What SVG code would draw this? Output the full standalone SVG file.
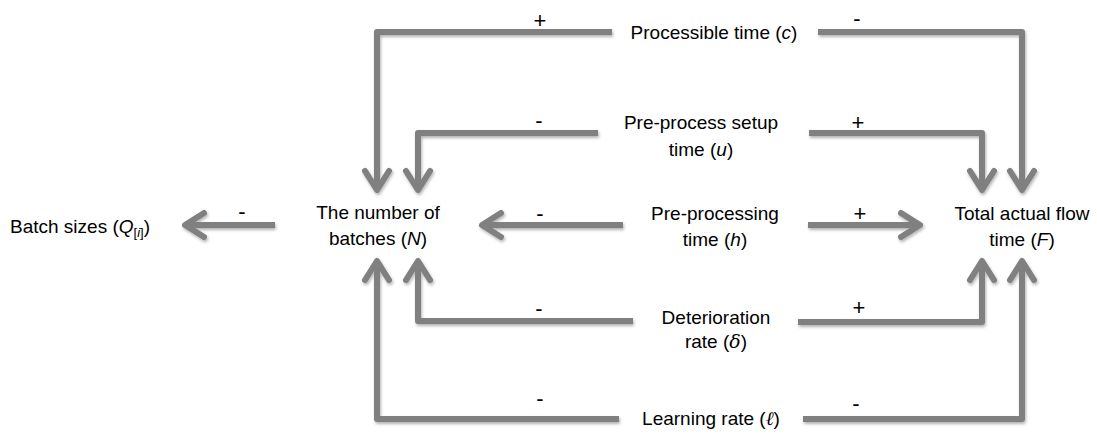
<svg xmlns="http://www.w3.org/2000/svg" width="1097" height="434" viewBox="0 0 1097 434">
<style>
  text { font-family: "Liberation Sans", Arial, sans-serif; font-size: 19px; fill: #000; }
  .lbl { text-anchor: middle; }
  .sign { text-anchor: middle; font-size: 22px; }
  .conn { fill: none; stroke: #808080; stroke-width: 6; stroke-linejoin: round; }
  .var { font-style: italic; }
  .math { font-family: "DejaVu Serif", "Liberation Serif", serif; font-style: italic; }
</style>
<defs>
  <filter id="sh" x="-10%" y="-10%" width="120%" height="130%">
    <feDropShadow dx="1" dy="2" stdDeviation="1.5" flood-color="#000" flood-opacity="0.3"/>
  </filter>
  <marker id="ah" markerUnits="userSpaceOnUse" markerWidth="40" markerHeight="40" viewBox="-30 -20 40 40" refX="0" refY="0" orient="auto">
    <path d="M-19,-12 L0,0 L-19,12" fill="none" stroke="#808080" stroke-width="6" stroke-linecap="round" stroke-linejoin="round"/>
  </marker>
</defs>

<g id="connectors" filter="url(#sh)">
  <path class="conn" d="M612,32 H377 V190" marker-end="url(#ah)"/>
  <path class="conn" d="M818,32 H1022 V190" marker-end="url(#ah)"/>
  <path class="conn" d="M598,133 H418 V190" marker-end="url(#ah)"/>
  <path class="conn" d="M809,133 H982 V190" marker-end="url(#ah)"/>
  <path class="conn" d="M623,225 H482" marker-end="url(#ah)"/>
  <path class="conn" d="M808,225 H920" marker-end="url(#ah)"/>
  <path class="conn" d="M275,225 H185" marker-end="url(#ah)"/>
  <path class="conn" d="M633,321 H418 V261" marker-end="url(#ah)"/>
  <path class="conn" d="M798,322 H982 V261" marker-end="url(#ah)"/>
  <path class="conn" d="M619,419 H377 V261" marker-end="url(#ah)"/>
  <path class="conn" d="M803,419 H1022 V261" marker-end="url(#ah)"/>
</g>

<g id="signs">
  <text class="sign" x="540" y="28">+</text>
  <text class="sign" x="857" y="26">-</text>
  <text class="sign" x="539" y="128">-</text>
  <text class="sign" x="858" y="130">+</text>
  <text class="sign" x="540" y="221">-</text>
  <text class="sign" x="860" y="221">+</text>
  <text class="sign" x="242" y="219">-</text>
  <text class="sign" x="539" y="316">-</text>
  <text class="sign" x="859" y="315">+</text>
  <text class="sign" x="540" y="406">-</text>
  <text class="sign" x="856" y="411">-</text>
</g>

<g id="node-c">
  <text class="lbl" x="714" y="39">Processible time (<tspan class="var">c</tspan>)</text>
</g>
<g id="node-u">
  <text class="lbl" x="701" y="129">Pre-process setup</text>
  <text class="lbl" x="701" y="156">time (<tspan class="var">u</tspan>)</text>
</g>
<g id="node-N">
  <text class="lbl" x="378" y="219">The number of</text>
  <text class="lbl" x="378" y="245">batches (<tspan class="var">N</tspan>)</text>
</g>
<g id="node-Q">
  <text x="10" y="233">Batch sizes (<tspan class="var">Q</tspan><tspan font-size="13" dy="4">[<tspan class="var">i</tspan>]</tspan><tspan dy="-4">)</tspan></text>
</g>
<g id="node-h">
  <text class="lbl" x="715" y="220">Pre-processing</text>
  <text class="lbl" x="715" y="246">time (<tspan class="var">h</tspan>)</text>
</g>
<g id="node-F">
  <text class="lbl" x="1022" y="220">Total actual flow</text>
  <text class="lbl" x="1022" y="246">time (<tspan class="var">F</tspan>)</text>
</g>
<g id="node-delta">
  <text class="lbl" x="716" y="324">Deterioration</text>
  <text class="lbl" x="716" y="348">rate (<tspan class="math">δ</tspan>)</text>
</g>
<g id="node-l">
  <text class="lbl" x="711" y="425">Learning rate (<tspan class="math">ℓ</tspan>)</text>
</g>
</svg>
